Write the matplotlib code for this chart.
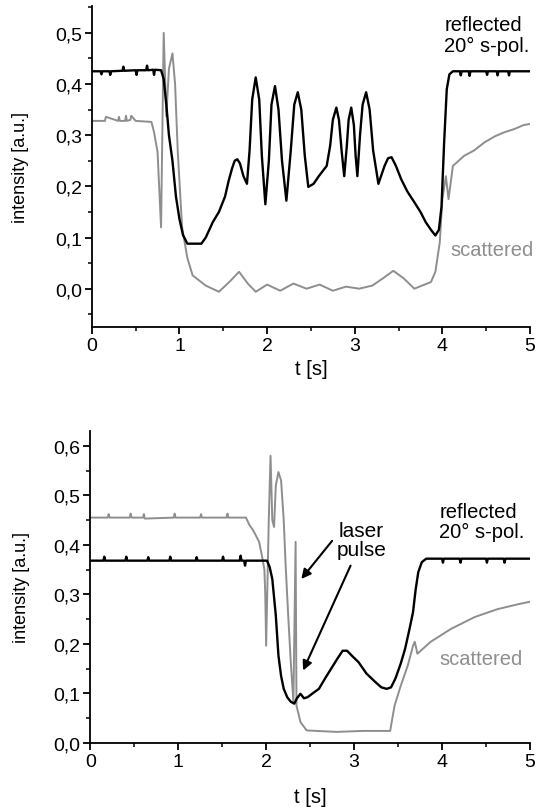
import matplotlib
matplotlib.use("Agg")
import matplotlib.pyplot as plt
from matplotlib.ticker import MultipleLocator, FuncFormatter

plt.rcParams["font.family"] = ["Liberation Sans", "DejaVu Sans"]

GRAY = "#8e8e8e"

# ---- upper panel ----
top_refl_t = [0.0, 0.10, 0.11, 0.12, 0.20, 0.21, 0.22, 0.35, 0.36, 0.37, 0.50,
              0.51, 0.52, 0.62, 0.63, 0.64, 0.70, 0.71, 0.72, 0.79, 0.82, 0.85,
              0.88, 0.92, 0.96, 1.00, 1.04, 1.09, 1.25, 1.30, 1.38, 1.45, 1.52,
              1.56, 1.60, 1.63, 1.66, 1.69, 1.73, 1.77, 1.80, 1.83, 1.87, 1.91,
              1.94, 1.98, 2.02, 2.05, 2.09, 2.13, 2.17, 2.22, 2.27, 2.31, 2.35,
              2.39, 2.43, 2.47, 2.53, 2.59, 2.68, 2.72, 2.75, 2.79, 2.82, 2.85,
              2.88, 2.91, 2.93, 2.96, 2.99, 3.01, 3.03, 3.06, 3.09, 3.13, 3.17,
              3.21, 3.27, 3.30, 3.34, 3.38, 3.42, 3.47, 3.53, 3.60, 3.68, 3.75,
              3.81, 3.87, 3.92, 3.96, 3.99, 4.02, 4.05, 4.08, 4.12, 4.20, 4.21,
              4.22, 4.30, 4.31, 4.32, 4.50, 4.51, 4.52, 4.62, 4.63, 4.64, 4.75,
              4.76, 4.77, 5.0]
top_refl_y = [0.425, 0.425, 0.419, 0.425, 0.425, 0.418, 0.425, 0.426, 0.434, 0.426, 0.427,
              0.418, 0.427, 0.427, 0.436, 0.427, 0.428, 0.418, 0.428, 0.427, 0.41, 0.36,
              0.30, 0.25, 0.18, 0.136, 0.105, 0.088, 0.088, 0.10, 0.13, 0.15, 0.18,
              0.21, 0.235, 0.25, 0.253, 0.245, 0.22, 0.205, 0.27, 0.37, 0.413, 0.37,
              0.26, 0.165, 0.25, 0.36, 0.396, 0.35, 0.25, 0.172, 0.27, 0.36, 0.384,
              0.35, 0.26, 0.199, 0.205, 0.22, 0.24, 0.28, 0.33, 0.354, 0.33, 0.27,
              0.22, 0.28, 0.33, 0.354, 0.32, 0.26, 0.22, 0.30, 0.36, 0.384, 0.35,
              0.27, 0.205, 0.22, 0.24, 0.255, 0.257, 0.24, 0.214, 0.19, 0.169, 0.15,
              0.13, 0.115, 0.104, 0.115, 0.16, 0.286, 0.39, 0.419, 0.425, 0.425, 0.417,
              0.425, 0.425, 0.416, 0.425, 0.425, 0.418, 0.425, 0.425, 0.417, 0.425, 0.425,
              0.417, 0.425, 0.425]

top_scat_t = [0.0, 0.15, 0.16, 0.30, 0.31, 0.32, 0.38, 0.39, 0.40, 0.44, 0.45,
              0.50, 0.68, 0.71, 0.75, 0.79, 0.82, 0.85, 0.88, 0.92, 0.95, 0.98,
              1.03, 1.09, 1.15, 1.30, 1.45, 1.58, 1.68, 1.78, 1.87, 2.00, 2.15,
              2.30, 2.45, 2.60, 2.75, 2.90, 3.05, 3.20, 3.32, 3.44, 3.56, 3.68,
              3.87, 3.92, 3.97, 4.00, 4.04, 4.07, 4.12, 4.25, 4.36, 4.48, 4.60,
              4.71, 4.82, 4.93, 5.0]
top_scat_y = [0.328, 0.328, 0.336, 0.328, 0.336, 0.328, 0.328, 0.338, 0.328, 0.33, 0.338,
              0.328, 0.326, 0.306, 0.267, 0.12, 0.50, 0.337, 0.43, 0.46, 0.40, 0.27,
              0.12, 0.06, 0.026, 0.006, -0.006, 0.015, 0.033, 0.01, -0.006, 0.008, -0.004,
              0.01, 0.0, 0.008, -0.004, 0.004, 0.0, 0.006, 0.02, 0.035, 0.02, 0.0,
              0.013, 0.033, 0.09, 0.175, 0.22, 0.175, 0.24, 0.26, 0.27, 0.286, 0.298,
              0.306, 0.312, 0.32, 0.322]

# ---- lower panel ----
bot_refl_t = [0.0, 0.15, 0.16, 0.17, 0.40, 0.41, 0.42, 0.65, 0.66, 0.67, 0.90,
              0.91, 0.92, 1.20, 1.21, 1.22, 1.50, 1.51, 1.52, 1.70, 1.71, 1.72,
              1.75, 1.76, 1.77, 2.01, 2.04, 2.07, 2.11, 2.14, 2.17, 2.20, 2.24,
              2.28, 2.32, 2.35, 2.39, 2.43, 2.47, 2.53, 2.60, 2.67, 2.74, 2.81,
              2.87, 2.92, 2.98, 3.05, 3.14, 3.24, 3.31, 3.37, 3.42, 3.47, 3.53,
              3.58, 3.63, 3.67, 3.70, 3.73, 3.77, 3.82, 4.00, 4.01, 4.02, 4.20,
              4.21, 4.22, 4.50, 4.51, 4.52, 4.70, 4.71, 4.72, 5.0]
bot_refl_y = [0.368, 0.368, 0.376, 0.368, 0.368, 0.376, 0.368, 0.368, 0.375, 0.368, 0.368,
              0.376, 0.368, 0.368, 0.375, 0.368, 0.368, 0.376, 0.368, 0.368, 0.378, 0.368,
              0.368, 0.358, 0.368, 0.368, 0.355, 0.331, 0.257, 0.176, 0.135, 0.109, 0.092,
              0.083, 0.079, 0.09, 0.099, 0.09, 0.092, 0.10, 0.109, 0.13, 0.15, 0.17,
              0.186, 0.186, 0.175, 0.163, 0.14, 0.123, 0.112, 0.109, 0.112, 0.13, 0.16,
              0.19, 0.23, 0.264, 0.31, 0.345, 0.365, 0.372, 0.372, 0.364, 0.372, 0.372,
              0.364, 0.372, 0.372, 0.364, 0.372, 0.372, 0.364, 0.372, 0.372]

bot_scat_t = [0.0, 0.20, 0.21, 0.22, 0.45, 0.46, 0.47, 0.60, 0.61, 0.62, 0.95,
              0.96, 0.97, 1.25, 1.26, 1.27, 1.55, 1.56, 1.57, 1.77, 1.81, 1.85,
              1.88, 1.92, 1.95, 1.98, 1.99, 2.00, 2.03, 2.05, 2.07, 2.09, 2.11,
              2.14, 2.17, 2.20, 2.22, 2.25, 2.28, 2.31, 2.335, 2.345, 2.39, 2.46,
              2.80, 3.10, 3.41, 3.46, 3.53, 3.61, 3.67, 3.69, 3.72, 3.87, 4.10,
              4.37, 4.63, 4.89, 5.0]
bot_scat_y = [0.455, 0.455, 0.462, 0.455, 0.455, 0.463, 0.455, 0.455, 0.462, 0.453, 0.455,
              0.463, 0.455, 0.455, 0.462, 0.455, 0.455, 0.463, 0.455, 0.455, 0.44, 0.43,
              0.42, 0.406, 0.38, 0.35, 0.30, 0.196, 0.45, 0.58, 0.45, 0.436, 0.52,
              0.547, 0.53, 0.45, 0.365, 0.26, 0.163, 0.083, 0.406, 0.075, 0.042, 0.025,
              0.022, 0.024, 0.024, 0.075, 0.115, 0.156, 0.196, 0.204, 0.18, 0.204, 0.23,
              0.254, 0.27, 0.281, 0.285]

comma = FuncFormatter(lambda v, _: f"{v:.1f}".replace(".", ","))
intfmt = FuncFormatter(lambda v, _: f"{v:.0f}")


def style_axes(ax, ylim, xlab_y, ylab_x):
    for s in ("top", "right"):
        ax.spines[s].set_visible(False)
    for s in ("left", "bottom"):
        ax.spines[s].set_linewidth(1.3)
    ax.set_xlim(0, 5)
    ax.set_ylim(*ylim)
    ax.xaxis.set_major_locator(MultipleLocator(1))
    ax.xaxis.set_minor_locator(MultipleLocator(0.5))
    ax.yaxis.set_major_locator(MultipleLocator(0.1))
    ax.yaxis.set_minor_locator(MultipleLocator(0.05))
    ax.xaxis.set_major_formatter(intfmt)
    ax.yaxis.set_major_formatter(comma)
    ax.tick_params(which="major", direction="out", length=5, width=1.3,
                   labelsize=14, pad=2)
    ax.tick_params(which="minor", direction="out", length=3, width=1.1)
    ax.set_xlabel("t [s]", fontsize=14.5)
    ax.set_ylabel("intensity [a.u.]", fontsize=13)
    ax.xaxis.set_label_coords(0.5, xlab_y)
    ax.yaxis.set_label_coords(ylab_x, 0.5)


fig = plt.figure(figsize=(5.37, 8.12), dpi=100)

ax1 = fig.add_axes([0.171, 0.596, 0.816, 0.395])
ax1.plot(top_scat_t, top_scat_y, color=GRAY, lw=1.4)
ax1.plot(top_refl_t, top_refl_y, color="black", lw=1.7)
style_axes(ax1, (-0.075, 0.552), -0.10, -0.143)
ax1.text(4.02, 0.535, "reflected\n20° s-pol.", ha="left", va="top",
         fontsize=14.5, linespacing=1.1)
ax1.text(4.09, 0.076, "scattered", ha="left", va="center", fontsize=14.5, color=GRAY)

ax2 = fig.add_axes([0.168, 0.084, 0.819, 0.384])
ax2.plot(bot_scat_t, bot_scat_y, color=GRAY, lw=1.4)
ax2.plot(bot_refl_t, bot_refl_y, color="black", lw=1.7)
style_axes(ax2, (0.0, 0.63), -0.141, -0.138)
ax2.text(3.97, 0.487, "reflected\n20° s-pol.", ha="left", va="top",
         fontsize=14.5, linespacing=1.1)
ax2.text(3.97, 0.17, "scattered", ha="left", va="center", fontsize=14.5, color=GRAY)
ax2.text(3.08, 0.448, "laser\npulse", ha="center", va="top", fontsize=15,
         linespacing=1.0)
arrow = dict(arrowstyle="-|>", color="black", lw=1.5, mutation_scale=14,
             shrinkA=0, shrinkB=0)
ax2.annotate("", xy=(2.40, 0.331), xytext=(2.75, 0.408), arrowprops=arrow)
ax2.annotate("", xy=(2.42, 0.146), xytext=(2.96, 0.358), arrowprops=arrow)

fig.savefig("out.png", dpi=100)
